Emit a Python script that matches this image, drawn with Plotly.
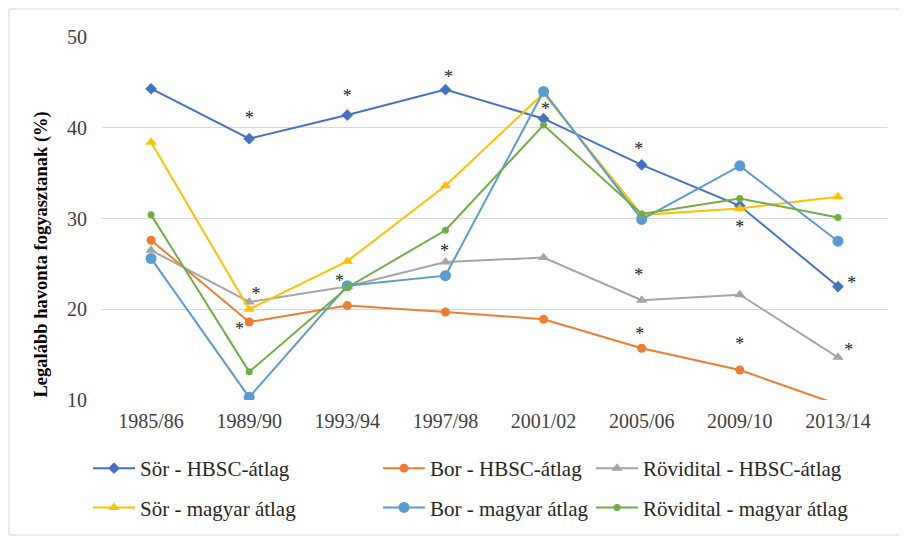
import plotly.graph_objects as go

# Data
years = ["1985/86", "1989/90", "1993/94", "1997/98", "2001/02", "2005/06", "2009/10", "2013/14"]

sor_hbsc = [44.3, 38.8, 41.4, 44.2, 41.0, 35.9, 31.4, 22.5]
bor_hbsc = [27.6, 18.6, 20.4, 19.7, 18.9, 15.7, 13.3, 9.5]
rov_hbsc = [26.5, 20.8, 22.5, 25.2, 25.7, 21.0, 21.6, 14.7]
sor_magyar = [38.4, 20.0, 25.3, 33.6, 43.8, 30.4, 31.1, 32.4]
bor_magyar = [25.6, 10.3, 22.6, 23.7, 44.0, 29.9, 35.8, 27.5]
rov_magyar = [30.4, 13.1, 22.4, 28.7, 40.3, 30.5, 32.2, 30.1]

# significance markers (*): x as category index, y as value
sig_x = [1.0, 1.07, 0.9, 2.0, 1.92, 3.03, 2.99, 4.02, 4.97, 4.97, 4.98, 6.0, 6.0, 7.14, 7.11]
sig_y = [40.9, 21.5, 17.7, 43.3, 22.9, 45.4, 26.3, 41.9, 37.5, 23.6, 17.1, 28.9, 16.0, 22.7, 15.3]

# the page adds an 8px body margin, so the figure is a bit smaller
W, H = 899, 528
ML, MR, MT, MB = 94, 20, 29, 136
FONT = "Liberation Serif, Times New Roman, serif"

series = [
    ("Sör - HBSC-átlag", sor_hbsc, "#4472C4", "diamond", 9, "legend"),
    ("Bor - HBSC-átlag", bor_hbsc, "#ED7D31", "circle", 9, "legend2"),
    ("Rövidital - HBSC-átlag", rov_hbsc, "#A5A5A5", "triangle-up", 10, "legend3"),
    ("Sör - magyar átlag", sor_magyar, "#FFC000", "triangle-up", 10, "legend"),
    ("Bor - magyar átlag", bor_magyar, "#5B9BD5", "circle", 11, "legend2"),
    ("Rövidital - magyar átlag", rov_magyar, "#70AD47", "circle", 7, "legend3"),
]

xs = list(range(len(years)))
fig = go.Figure()
for name, vals, color, sym, size, leg in series:
    fig.add_trace(go.Scatter(
        x=xs, y=vals, name=name, mode="lines+markers",
        line=dict(color=color, width=2),
        marker=dict(symbol=sym, size=size, color=color),
        legend=leg, legendgroup=name,
    ))

fig.add_trace(go.Scatter(
    x=sig_x, y=sig_y, mode="text", text=["*"] * len(sig_x),
    textfont=dict(family=FONT, size=18, color="#222222"),
    textposition="middle center", showlegend=False, hoverinfo="skip",
))

pw = W - ML - MR
ph = H - MT - MB
# light frame around the whole chart
fig.add_shape(type="rect", xref="paper", yref="paper",
              x0=(1 - ML) / pw, x1=(W - 1 - ML) / pw,
              y0=(1 - MB) / ph, y1=(H - 1 - MB) / ph,
              line=dict(color="#D9D9D9", width=1), layer="below")

# y axis title as an annotation (sits lower than the plot centre)
fig.add_annotation(text="<b>Legalább havonta fogyasztanak (%)</b>", textangle=-90,
                   xref="paper", yref="paper", showarrow=False,
                   x=(20 - ML) / pw, y=(H - MB - 247) / ph,
                   font=dict(family=FONT, size=18.5, color="#000000"))

leg_common = dict(xref="paper", yref="paper", yanchor="top", xanchor="left",
                  orientation="v", tracegroupgap=9, itemwidth=42,
                  font=dict(family=FONT, size=21, color="#262626"),
                  bgcolor="rgba(0,0,0,0)")
leg_y = (H - MB - 440) / ph

fig.update_layout(
    width=W, height=H,
    margin=dict(l=ML, r=MR, t=MT, b=MB, autoexpand=False),
    paper_bgcolor="white", plot_bgcolor="white",
    font=dict(family=FONT, size=20, color="#404040"),
    xaxis=dict(tickvals=xs, ticktext=years, range=[-0.5, 7.5],
               showgrid=False, zeroline=False, showline=False, ticks="",
               ticklabelstandoff=7),
    yaxis=dict(range=[10, 50], dtick=10, gridcolor="#D9D9D9", gridwidth=1,
               zeroline=False, showline=False, ticks="", ticklabelstandoff=14),
    legend=dict(x=(80 - ML) / pw, y=leg_y, **leg_common),
    legend2=dict(x=(370 - ML) / pw, y=leg_y, **leg_common),
    legend3=dict(x=(583 - ML) / pw, y=leg_y, **leg_common),
)

fig.write_html("out.html")
